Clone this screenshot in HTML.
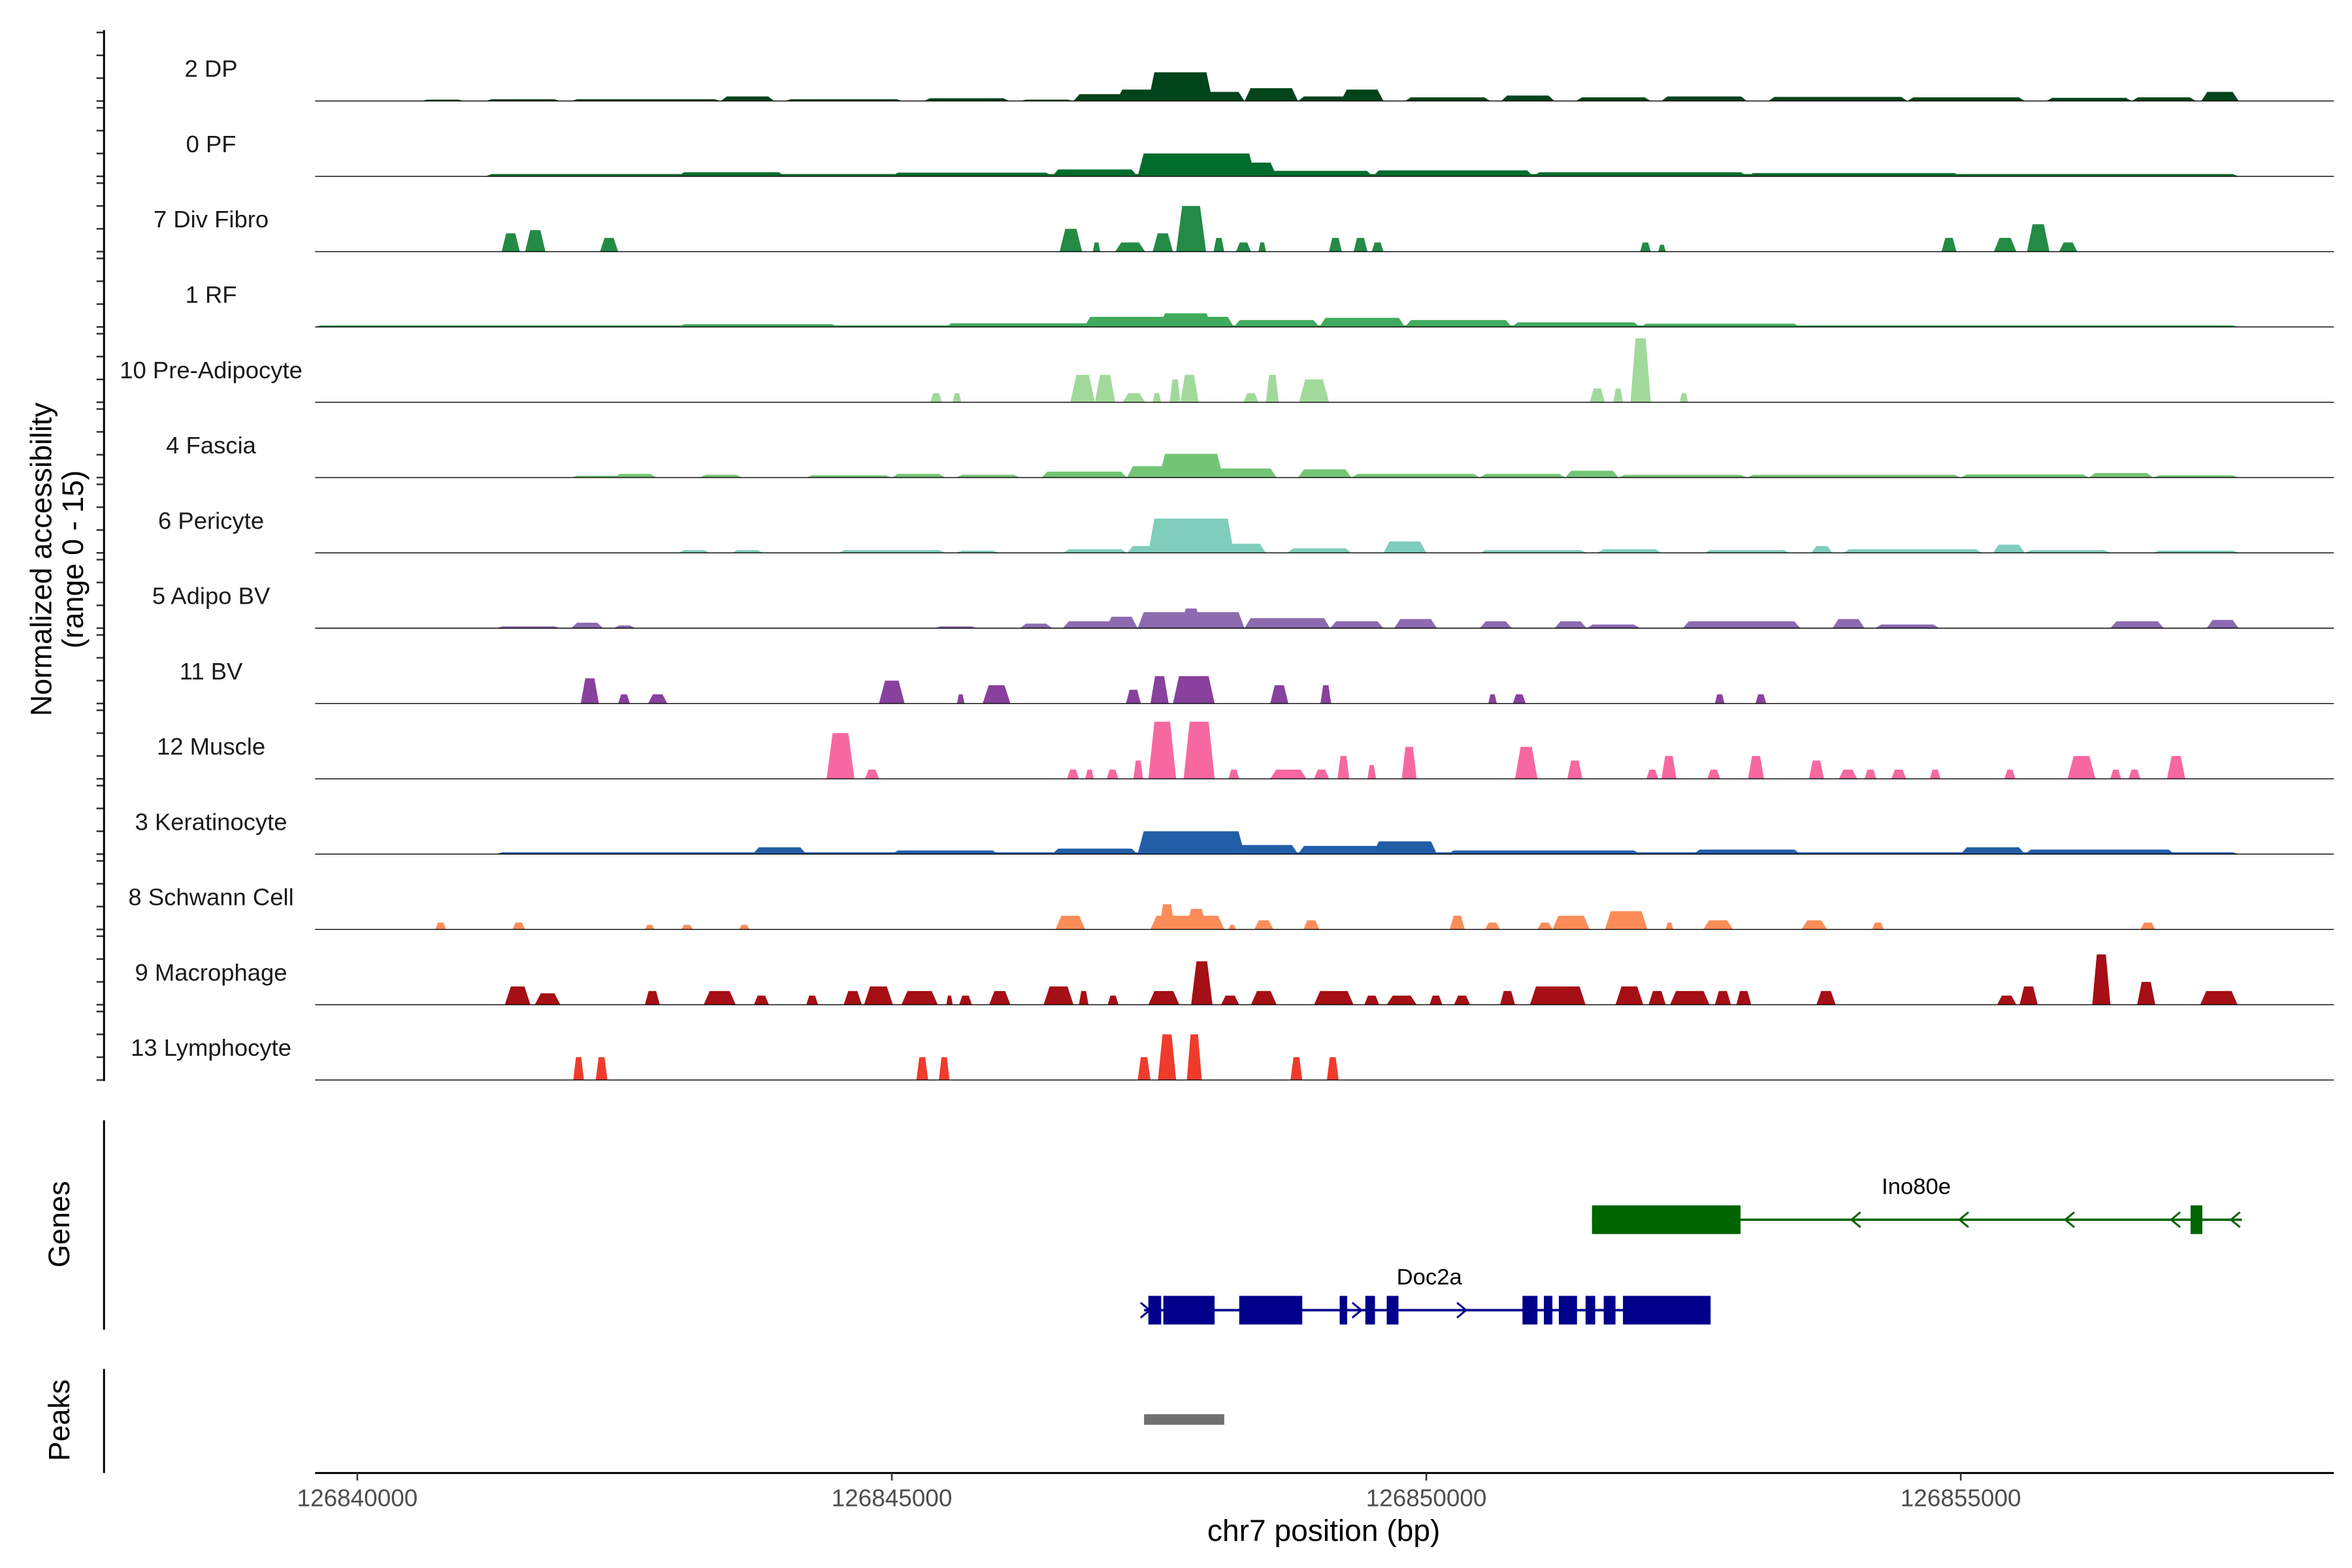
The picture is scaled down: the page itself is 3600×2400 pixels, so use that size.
<!DOCTYPE html>
<html><head><meta charset="utf-8"><style>
html,body{margin:0;padding:0;background:#fff;}
svg{display:block;font-family:"Liberation Sans",Arial,sans-serif;}
</style></head><body>
<svg id="chart" width="3600" height="2400" viewBox="0 0 1560 1040" xmlns="http://www.w3.org/2000/svg">
<g id="tracks"></g>
<g id="genes"></g>
<g id="peaks"></g>
<g id="axes"></g>
</svg>
<script>
// positions in kb offset from chr7:126840000; heights in normalized units (0-15)
const trackNames = ["2 DP","0 PF","7 Div Fibro","1 RF","10 Pre-Adipocyte","4 Fascia","6 Pericyte","5 Adipo BV","11 BV","12 Muscle","3 Keratinocyte","8 Schwann Cell","9 Macrophage","13 Lymphocyte"];
const trackColors = ["#00441b","#006d2c","#238b45","#41ab5d","#a1d99b","#74c476","#7fcdbb","#8c6bb1","#88419d","#f768a1","#225ea8","#fc8d59","#a50f15","#ef3b2c"];
const peaksDP = [[0.6,1.0,0.3],[1.2,1.9,0.4],[2.0,3.4,0.4],[3.4,3.9,1.0],[4.0,5.1,0.4],[5.3,6.1,0.6],[6.2,6.7,0.3],[6.7,7.3,1.5],[7.1,7.6,2.5],[7.4,8.0,6.3],[7.6,7.8,5.5],[7.9,8.3,2.0],[8.3,8.8,2.8],[8.8,9.3,1.0],[9.2,9.6,2.5],[9.8,10.6,0.8],[10.7,11.2,1.2],[11.4,12.1,0.8],[12.2,13.0,1.0],[13.2,14.5,0.9],[14.5,15.6,0.8],[15.8,16.6,0.7],[16.6,17.2,0.8],[17.25,17.6,2.0]];
const peaksPF = [[1.2,17.6,0.5],[3.0,4.0,0.9],[5.0,6.5,0.8],[6.5,7.3,1.5],[7.3,8.4,5.0],[7.8,8.6,3.0],[8.4,9.5,1.2],[9.5,11.0,1.3],[11.0,13.0,0.9],[13.0,15.0,0.7]];
const peaksDivFibro = [[1.35,1.52,4],[1.57,1.76,4.7],[2.27,2.44,3],[6.57,6.78,5],[6.88,6.95,2],[7.09,7.37,2],[7.44,7.63,4],[7.66,7.94,10],[8.01,8.11,3],[8.22,8.36,2],[8.43,8.50,2],[9.09,9.21,3],[9.32,9.45,3],[9.49,9.60,2],[12.0,12.1,2],[12.17,12.24,1.5],[14.82,14.96,3],[15.31,15.52,3],[15.62,15.83,6],[15.92,16.09,2]];
const peaksRF = [[-0.4,17.6,0.35],[3.0,4.5,0.6],[5.5,7.0,0.8],[6.8,8.2,2.2],[7.5,8.0,3.0],[8.2,9.0,1.5],[9.0,9.8,2.0],[9.8,10.8,1.5],[10.8,12.0,1.0],[12.0,13.5,0.7]];
const peaksPreAdipo = [[5.36,5.47,2],[5.57,5.65,2],[6.67,6.90,6],[6.90,7.09,6],[7.16,7.37,2],[7.44,7.52,2],[7.60,7.70,5],[7.70,7.87,6],[8.29,8.43,2],[8.50,8.62,6],[8.81,9.09,5],[11.53,11.67,3],[11.75,11.84,3],[11.91,12.10,14],[12.37,12.45,2]];
const peaksFascia = [[2.0,2.5,0.4],[2.4,2.8,0.8],[3.2,3.6,0.6],[4.2,5.0,0.5],[5.0,5.5,0.8],[5.6,6.2,0.6],[6.4,7.2,1.3],[7.2,7.6,2.5],[7.5,8.1,5.2],[8.0,8.6,2.0],[8.8,9.3,1.8],[9.3,10.5,0.8],[10.5,11.3,0.8],[11.3,11.8,1.5],[11.8,13.0,0.6],[13.0,15.0,0.6],[15.0,16.2,0.7],[16.2,16.8,1.0],[16.8,17.6,0.5]];
const peaksPericyte = [[3.0,3.3,0.6],[3.5,3.8,0.6],[4.5,5.5,0.6],[5.6,6.0,0.5],[6.6,7.2,0.8],[7.2,7.5,1.5],[7.4,8.2,7.5],[8.1,8.5,2.0],[8.7,9.3,1.0],[9.6,10.0,2.5],[10.5,11.5,0.6],[11.6,12.2,0.8],[12.6,13.4,0.6],[13.6,13.8,1.5],[13.9,15.2,0.8],[15.3,15.6,1.8],[15.6,16.4,0.6],[16.8,17.6,0.5]];
const peaksAdipoBV = [[1.3,1.9,0.4],[2.0,2.3,1.2],[2.4,2.6,0.6],[5.4,5.8,0.4],[6.2,6.5,1.0],[6.6,7.2,1.5],[7.0,7.3,2.5],[7.3,8.3,3.5],[7.7,7.9,4.3],[8.3,9.1,2.2],[9.1,9.6,1.5],[9.7,10.1,2.0],[10.5,10.8,1.5],[11.2,11.5,1.5],[11.5,12.0,0.8],[12.4,13.5,1.5],[13.8,14.1,2.0],[14.2,14.8,0.8],[16.4,16.9,1.5],[17.3,17.6,1.8]];
const peaksBV = [[2.09,2.26,5.5],[2.44,2.55,2],[2.72,2.90,2],[4.88,5.12,5],[5.61,5.68,2],[5.85,6.11,4],[7.19,7.33,3],[7.42,7.59,6],[7.63,8.02,6],[8.54,8.71,4],[9.01,9.11,4],[10.58,10.66,2],[10.81,10.93,2],[12.70,12.79,2],[13.08,13.18,2]];
const peaksMuscle = [[4.39,4.65,10],[4.75,4.88,2],[6.64,6.75,2],[6.81,6.89,2],[7.01,7.12,2],[7.26,7.35,4],[7.40,7.66,12.5],[7.73,8.02,12.5],[8.15,8.25,2],[8.54,8.88,2],[8.95,9.09,2],[9.17,9.28,5],[9.45,9.53,3],[9.77,9.91,7],[10.83,11.04,7],[11.32,11.46,4],[12.06,12.17,2],[12.20,12.34,5],[12.63,12.75,2],[13.01,13.16,5],[13.58,13.72,4],[13.86,14.03,2],[14.10,14.21,2],[14.35,14.49,2],[14.71,14.81,2],[15.41,15.51,2],[16.0,16.26,5],[16.40,16.50,2],[16.57,16.68,2],[16.93,17.10,5]];
const peaksKerat = [[1.3,17.6,0.4],[3.7,4.2,1.5],[5.0,6.0,0.8],[6.5,7.3,1.2],[7.3,8.3,5.0],[8.2,8.8,2.0],[8.8,9.6,1.8],[9.5,10.1,2.8],[10.2,12.0,0.8],[12.5,13.5,1.0],[15.0,15.6,1.5],[15.6,17.0,1.0]];
const peaksSchwann = [[0.73,0.83,1.5],[1.45,1.57,1.5],[2.69,2.78,1],[3.03,3.14,1],[3.57,3.67,1],[6.53,6.81,3],[7.42,8.11,3],[7.50,7.65,5.5],[7.75,7.95,4.5],[8.15,8.22,1],[8.39,8.57,2],[8.85,9.00,2],[10.22,10.36,3],[10.55,10.69,1.5],[11.04,11.18,1.5],[11.18,11.53,3],[11.67,12.07,4],[12.24,12.31,1.5],[12.59,12.87,2],[13.51,13.75,2],[14.17,14.28,1.5],[16.68,16.82,1.5]];
const peaksMacro = [[1.38,1.62,4],[1.66,1.90,2.5],[2.69,2.83,3],[3.24,3.54,3],[3.71,3.85,2],[4.20,4.31,2],[4.55,4.72,3],[4.74,5.01,4],[5.09,5.43,3],[5.51,5.57,2],[5.63,5.75,2],[5.91,6.11,3],[6.42,6.70,4],[6.75,6.84,3],[7.02,7.12,2],[7.40,7.69,3],[7.80,8.00,9.5],[8.08,8.25,2],[8.36,8.60,3],[8.95,9.32,3],[9.42,9.56,2],[9.63,9.91,2],[10.03,10.15,2],[10.26,10.41,2],[10.69,10.83,3],[10.97,11.49,4],[11.77,12.03,4],[12.08,12.24,3],[12.28,12.65,3],[12.70,12.85,3],[12.90,13.04,3],[13.65,13.83,3],[15.34,15.52,2],[15.55,15.72,4],[16.23,16.40,11],[16.65,16.82,5],[17.24,17.59,3]];
const peaksLympho = [[2.02,2.12,5],[2.23,2.34,5],[5.23,5.34,5],[5.44,5.54,5],[7.30,7.42,5],[7.49,7.66,10],[7.76,7.90,10],[8.73,8.84,5],[9.07,9.18,5]];
const allPeaks = [peaksDP,peaksPF,peaksDivFibro,peaksRF,peaksPreAdipo,peaksFascia,peaksPericyte,peaksAdipoBV,peaksBV,peaksMuscle,peaksKerat,peaksSchwann,peaksMacro,peaksLympho];
const ino80eExons = [[11.55,12.94],[17.15,17.26]];
const ino80eSpan = [11.55,17.63];
const ino80eArrows = [14.02,15.03,16.02,17.01,17.57];
const doc2aExons = [[7.40,7.52],[7.54,8.02],[8.25,8.84],[9.19,9.26],[9.43,9.52],[9.63,9.74],[10.90,11.04],[11.10,11.18],[11.24,11.41],[11.49,11.58],[11.66,11.77],[11.84,12.66]];
const doc2aSpan = [7.36,12.66];
const doc2aArrows = [7.37,9.35,10.33];
const peakRegions = [[7.36,8.11]];
const xTicks = [126840000,126845000,126850000,126855000];

const NS="http://www.w3.org/2000/svg";
const base = 126840000;
function xs(kb){return 237 + kb*70.9;}
function xb(bp){return xs((bp-base)/1000);}
const unitPx = 3.03, trackStep = 49.95, firstBase = 67;
function mk(tag, attrs, parent){const e=document.createElementNS(NS,tag);for(const k in attrs)e.setAttribute(k,attrs[k]);parent.appendChild(e);return e;}
const gT=document.getElementById('tracks'), gG=document.getElementById('genes'), gP=document.getElementById('peaks'), gA=document.getElementById('axes');

allPeaks.forEach((pk,i)=>{
  const yb = firstBase + i*trackStep;
  const g = mk('g',{},gT);
  
  
  pk.forEach(p=>{
    const x1=xs(p[0]), x2=xs(p[1]), h=p[2]*unitPx, r=Math.min((x2-x1)*0.25,4);
    const poly=mk('polygon',{points:`${x1},${yb} ${x1+r},${yb-h} ${x2-r},${yb-h} ${x2},${yb}`,fill:trackColors[i]},g);
    
    
  });
  const bl=mk('line',{x1:209,x2:1548,y1:yb,y2:yb,stroke:'#000','stroke-width':0.6},g);
  
  
  const t=mk('text',{x:140,y:yb-16,'text-anchor':'middle','font-size':15.8,fill:'#1a1a1a'},g);
  t.textContent=trackNames[i];
  
  
  for(let k=0;k<4;k++){
    const ty=yb-k*5*unitPx;
    const tk=mk('line',{x1:64,x2:69,y1:ty,y2:ty,stroke:'#333','stroke-width':1.1},gA);
    
    
  }
});
let ax=mk('line',{x1:69,x2:69,y1:20,y2:717,stroke:'#000','stroke-width':1.3},gA);


let yl=mk('text',{transform:'translate(34,371) rotate(-90)','text-anchor':'middle','font-size':19.5,fill:'#000'},gA);


yl.innerHTML='<tspan x="0" dy="0">Normalized accessibility</tspan><tspan x="0" dy="21">(range 0 - 15)</tspan>';

function gene(name,span,exons,arrows,y,color,dir,labelX){
  const g=mk('g',{},gG);
  
  
  const l=mk('line',{x1:xs(span[0]),x2:xs(span[1]),y1:y,y2:y,stroke:color,'stroke-width':1.6},g);
  
  
  exons.forEach(e=>{
    const r=mk('rect',{x:xs(e[0]),y:y-9.5,width:xs(e[1])-xs(e[0]),height:19,fill:color},g);
    
    
  });
  arrows.forEach(a=>{
    const x=xs(a), d=dir*3;
    const p=mk('polyline',{points:`${x-d},${y-5} ${x+d},${y} ${x-d},${y+5}`,fill:'none',stroke:color,'stroke-width':1.3},g);
    
    
  });
  const t=mk('text',{x:labelX,y:y-17,'text-anchor':'middle','font-size':15,fill:'#000'},g);
  t.textContent=name;
  
  
}
gene('Ino80e',ino80eSpan,ino80eExons,ino80eArrows,809,'#006400',-1,1271);
gene('Doc2a',doc2aSpan,doc2aExons,doc2aArrows,869,'#00008b',1,948);
ax=mk('line',{x1:69,x2:69,y1:743,y2:882,stroke:'#000','stroke-width':1.3},gA);


let gl=mk('text',{transform:'translate(46,812) rotate(-90)','text-anchor':'middle','font-size':19.5,fill:'#000'},gA);
gl.textContent='Genes';



peakRegions.forEach(p=>{
  const r=mk('rect',{x:xs(p[0]),y:938,width:xs(p[1])-xs(p[0]),height:7,fill:'#707070'},gP);
  
  
});
ax=mk('line',{x1:69,x2:69,y1:908,y2:977,stroke:'#000','stroke-width':1.3},gA);


let pl=mk('text',{transform:'translate(46,942) rotate(-90)','text-anchor':'middle','font-size':19.5,fill:'#000'},gA);
pl.textContent='Peaks';



ax=mk('line',{x1:209,x2:1548,y1:977,y2:977,stroke:'#000','stroke-width':1.3},gA);


xTicks.forEach(v=>{
  const x=xb(v);
  const tk=mk('line',{x1:x,x2:x,y1:977,y2:982,stroke:'#333','stroke-width':1.1},gA);
  
  
  const t=mk('text',{x:x,y:999,'text-anchor':'middle','font-size':16,fill:'#4d4d4d'},gA);
  t.textContent=String(v);
  
  
});
let xt=mk('text',{x:878,y:1022,'text-anchor':'middle','font-size':20,fill:'#000'},gA);
xt.textContent='chr7 position (bp)';


</script>
</body></html>
